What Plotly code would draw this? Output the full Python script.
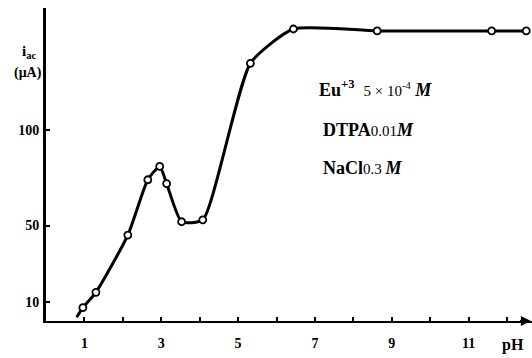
import plotly.graph_objects as go

# measured points (pH, i_ac in microamps)
ph_pts = [0.96, 1.3, 2.13, 2.65, 2.96, 3.14, 3.53, 4.08, 5.32, 6.44, 8.62, 11.6, 12.5]
i_pts = [7, 15, 45, 74, 81, 72, 52, 53, 135, 153, 152, 152, 152]
# curve start (no marker)
ph_start = [0.8]
i_start = [2]

x_ticks = [1, 2, 3, 4, 5, 6, 7, 8, 9, 10, 11, 12]
x_labels = ["1", "", "3", "", "5", "", "7", "", "9", "", "11", ""]
y_ticks = [10, 50, 100]
y_labels = ["10", "50", "100"]

SERIF = "Liberation Serif, Times New Roman, serif"

fig = go.Figure()
fig.add_trace(go.Scatter(
    x=ph_start + ph_pts, y=i_start + i_pts, mode="lines",
    line=dict(color="black", width=3, shape="spline", smoothing=0.55),
    hoverinfo="skip", showlegend=False))
fig.add_trace(go.Scatter(
    x=ph_pts, y=i_pts, mode="markers",
    marker=dict(symbol="circle", size=7, color="white",
                line=dict(color="black", width=1.8)),
    cliponaxis=False, showlegend=False))

fig.update_layout(
    width=532, height=358,
    margin=dict(l=46, r=0, t=8, b=37),
    paper_bgcolor="white", plot_bgcolor="white",
    font=dict(family=SERIF, color="black"),
    xaxis=dict(range=[0, 12.65], showgrid=False, zeroline=False,
               showline=True, linecolor="black", linewidth=2.2,
               tickmode="array", tickvals=x_ticks,
               ticktext=[f"<b>{t}</b>" if t else "" for t in x_labels],
               ticks="inside", ticklen=4, tickwidth=2, tickcolor="black",
               ticklabelstandoff=8,
               tickfont=dict(family=SERIF, size=14, color="black")),
    yaxis=dict(range=[0, 164], showgrid=False, zeroline=False,
               showline=True, linecolor="black", linewidth=2.8,
               tickmode="array", tickvals=y_ticks,
               ticktext=[f"<b>{t}</b>" for t in y_labels],
               ticks="inside", ticklen=4, tickwidth=2, tickcolor="black",
               ticklabelstandoff=1,
               tickfont=dict(family=SERIF, size=14, color="black")),
)

ann = [
    dict(x=500, y=345, xref="paper", yref="paper", text="<b>pH</b>",
         showarrow=False, xanchor="left", yanchor="middle",
         font=dict(size=16, family=SERIF)),
    dict(x=29, y=52, text="<b>i<sub>ac</sub></b>",
         showarrow=False, xanchor="center", yanchor="middle",
         font=dict(size=15, family=SERIF)),
    dict(x=28, y=73, text="<b>(μA)</b>",
         showarrow=False, xanchor="center", yanchor="middle",
         font=dict(size=14, family=SERIF)),
    dict(x=7.06, y=122, xref="x", yref="y",
         text="<b>Eu<sup>+3</sup></b>  <span style='font-size:15px'>5 × 10<sup>-4</sup></span> <i><b>M</b></i>",
         showarrow=False, xanchor="left", yanchor="middle",
         font=dict(size=18, family=SERIF)),
    dict(x=7.17, y=100, xref="x", yref="y",
         text="<b>DTPA</b><span style='font-size:15px'>0.01</span><i><b>M</b></i>",
         showarrow=False, xanchor="left", yanchor="middle",
         font=dict(size=18, family=SERIF)),
    dict(x=7.17, y=80, xref="x", yref="y",
         text="<b>NaCl</b><span style='font-size:15px'>0.3 </span><i><b>M</b></i>",
         showarrow=False, xanchor="left", yanchor="middle",
         font=dict(size=18, family=SERIF)),
    dict(x=12.62, y=0, ax=12.3, ay=0, xref="x", yref="y", axref="x", ayref="y",
         text="", showarrow=True, arrowhead=2, arrowsize=1, arrowwidth=2,
         arrowcolor="black"),
]
# pixel-positioned texts -> convert to paper coords
for a in ann:
    if a.get("xref") == "paper" or "xref" not in a:
        if "xref" not in a or a["x"] > 1:
            a["xref"] = "paper"; a["yref"] = "paper"
            a["x"] = (a["x"] - 46) / (532 - 46)
            a["y"] = 1 - (a["y"] - 8) / (358 - 8 - 37)
fig.update_layout(annotations=ann)

fig.write_html("out.html")
